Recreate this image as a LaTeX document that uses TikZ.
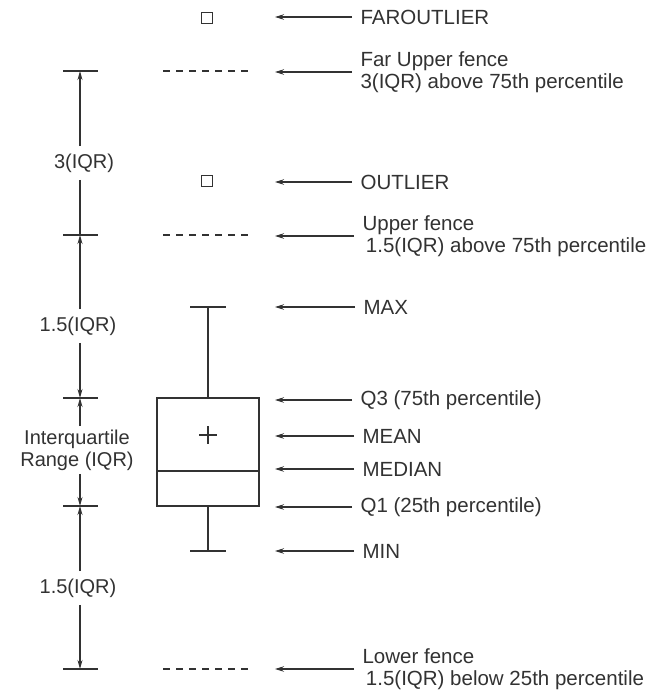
\documentclass[tikz,border=0pt]{standalone}
\usepackage{fontspec}
\setmainfont{Liberation Sans}
\usetikzlibrary{arrows.meta, positioning}
\definecolor{ink}{RGB}{50, 50, 50}

\begin{document}
\begin{tikzpicture}[x=1pt, y=-1pt, line width=1.1pt,
    lbl/.style={anchor=west, align=left, inner sep=0pt, text=ink,
                font=\fontsize{20.5}{22.5}\selectfont},
    dimlbl/.style={align=center, inner xsep=0pt, inner ysep=7pt, text=ink,
                   font=\fontsize{20}{22}\selectfont},
    ptr/.style={-{Stealth[length=9pt, width=5.5pt]}, draw=ink},
    dimarrow/.style={-{Stealth[length=9pt, width=5pt]}, draw=ink},
    plain/.style={draw=ink},
    fence/.style={draw=ink, dash pattern=on 7pt off 6pt},
    outpt/.style={draw=ink, minimum size=11.5pt, inner sep=0pt}
]
    \useasboundingbox (0,0) rectangle (654,691);

    % box and whiskers
    \draw[plain] (157,398) rectangle (259,506);
    \draw[plain] (157,471) -- (259,471);
    \draw[plain] (199,435) -- (217,435) (208,426) -- (208,444);
    \draw[plain] (208,398) -- (208,307) (190,307) -- (226,307);
    \draw[plain] (208,506) -- (208,551) (190,551) -- (226,551);

    % outliers and fences
    \node[outpt] (far) at (207,18) {};
    \node[outpt] (out) at (207,181) {};
    \foreach \y in {71, 235, 669}
        \draw[fence] (163,\y) -- (252,\y);

    % labels on the right
    \node[lbl] (farlbl)   at (360,17)  {FAROUTLIER};
    \node[lbl] (farfence) at (360,72)  {Far Upper fence\\3(IQR) above 75th percentile};
    \node[lbl] (outlbl)   at (360,182) {OUTLIER};
    \node[lbl] (upfence)  at (362,236) {Upper fence\\\,1.5(IQR) above 75th percentile};
    \node[lbl] (maxlbl)   at (363,307) {MAX};
    \node[lbl] (q3lbl)    at (360,400) {Q3 (75th percentile)};
    \node[lbl] (meanlbl)  at (362,436) {MEAN};
    \node[lbl] (medlbl)   at (362,469) {MEDIAN};
    \node[lbl] (q1lbl)    at (360,507) {Q1 (25th percentile)};
    \node[lbl] (minlbl)   at (362,551) {MIN};
    \node[lbl] (lowfence) at (362,669) {Lower fence\\\,1.5(IQR) below 25th percentile};

    \coordinate (tipcol) at (275,0);
    \foreach \n in {farlbl, farfence, outlbl, upfence, maxlbl, q3lbl, meanlbl, medlbl, q1lbl, minlbl, lowfence}
        \draw[ptr] ([xshift=-8pt]\n.west) -- (\n.west -| tipcol);

    % dimension line on the left
    \coordinate (t1) at (80,71);
    \coordinate (t2) at (80,235);
    \coordinate (t3) at (80,398);
    \coordinate (t4) at (80,506);
    \coordinate (t5) at (80,669);
    \foreach \t in {t1, t2, t3, t4, t5}
        \draw[plain] ([xshift=-17pt]\t) -- ([xshift=18pt]\t);

    \node[dimlbl] (d3)   at (84,163) {3(IQR)};
    \node[dimlbl] (d15a) at (78,326) {1.5(IQR)};
    \node[dimlbl, inner ysep=3pt] (diqr) at (77,450) {Interquartile\\Range (IQR)};
    \node[dimlbl] (d15b) at (78,588) {1.5(IQR)};

    \draw[dimarrow] (d3.north -| t1) -- (t1);
    \draw[plain] (d3.south -| t2) -- (t2);
    \draw[dimarrow] (d15a.north -| t2) -- (t2);
    \draw[dimarrow] (d15a.south -| t3) -- (t3);
    \draw[dimarrow] (diqr.north -| t3) -- (t3);
    \draw[dimarrow] (diqr.south -| t4) -- (t4);
    \draw[dimarrow] (d15b.north -| t4) -- (t4);
    \draw[dimarrow] (d15b.south -| t5) -- (t5);
\end{tikzpicture}
\end{document}
